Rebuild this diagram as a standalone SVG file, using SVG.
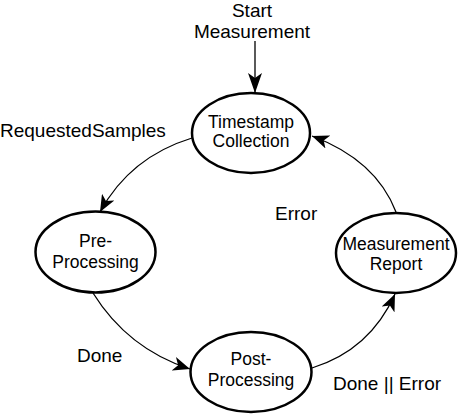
<svg xmlns="http://www.w3.org/2000/svg" width="458" height="415" viewBox="0 0 458 415">
<style>
  .node { fill: #ffffff; stroke: #000000; stroke-width: 2.5; }
  .nt { font-family: "Liberation Sans", Arial, sans-serif; font-size: 17.5px; fill: #000; text-anchor: middle; }
  .lbl { font-family: "Liberation Sans", Arial, sans-serif; font-size: 19px; fill: #000; }
  .edge { fill: none; stroke: #000000; stroke-width: 1.3; }
</style>
<defs>
  <marker id="arr" markerUnits="userSpaceOnUse" markerWidth="18" markerHeight="14" refX="17" refY="7" orient="auto">
    <path d="M17,7 L0,0 L4.5,7 L0,14 Z" fill="#000"/>
  </marker>
  <marker id="arrBig" markerUnits="userSpaceOnUse" markerWidth="21" markerHeight="14" refX="20" refY="7" orient="auto">
    <path d="M20,7 L0,0 L5,7 L0,14 Z" fill="#000"/>
  </marker>
</defs>
<g id="connectors">
  <path class="edge" d="M255,41 L255,93" marker-end="url(#arrBig)"/>
  <path class="edge" d="M192,138 Q130,157 100,212" marker-end="url(#arr)"/>
  <path class="edge" d="M93,293 Q128,349 190,369" marker-end="url(#arr)"/>
  <path class="edge" d="M312,368 Q370,350 395,294" marker-end="url(#arr)"/>
  <path class="edge" d="M396,212 Q376,160 312,136" marker-end="url(#arr)"/>
</g>
<g id="labels">
  <text class="lbl" x="252" y="16.5" text-anchor="middle">Start</text>
  <text class="lbl" x="252" y="37.5" text-anchor="middle">Measurement</text>
  <text class="lbl" x="0" y="137">RequestedSamples</text>
  <text class="lbl" x="275" y="220">Error</text>
  <text class="lbl" x="77" y="362">Done</text>
  <text class="lbl" x="333" y="390">Done || Error</text>
</g>
<g id="node-timestamp">
  <ellipse class="node" cx="251" cy="133" rx="59" ry="40"/>
  <text class="nt" x="251" y="128">Timestamp</text>
  <text class="nt" x="251" y="147">Collection</text>
</g>
<g id="node-preprocessing">
  <ellipse class="node" cx="95.5" cy="252" rx="60" ry="40.5"/>
  <text class="nt" x="95.5" y="247">Pre-</text>
  <text class="nt" x="95.5" y="268">Processing</text>
</g>
<g id="node-report">
  <ellipse class="node" cx="396" cy="253" rx="60" ry="40"/>
  <text class="nt" x="396" y="250">Measurement</text>
  <text class="nt" x="396" y="270">Report</text>
</g>
<g id="node-postprocessing">
  <ellipse class="node" cx="251" cy="372" rx="60.5" ry="40"/>
  <text class="nt" x="251" y="365">Post-</text>
  <text class="nt" x="251" y="386">Processing</text>
</g>
</svg>
